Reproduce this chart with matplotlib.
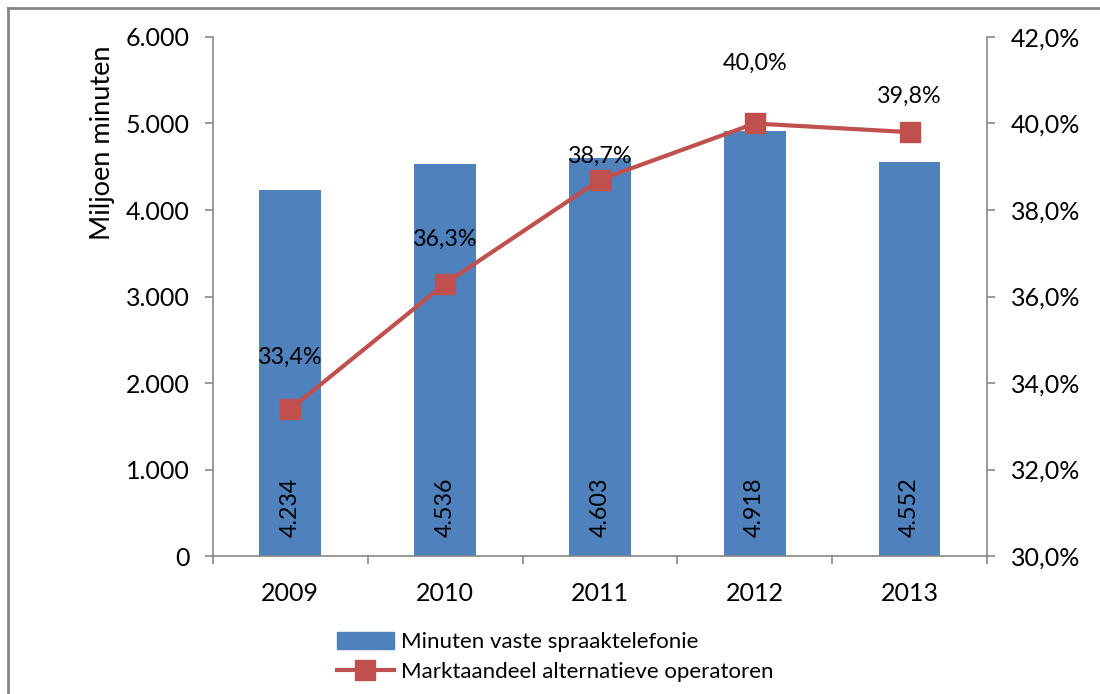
import matplotlib
matplotlib.use('Agg')
import matplotlib.pyplot as plt
from matplotlib.lines import Line2D
from matplotlib.ticker import FuncFormatter
import numpy as np

# Data
years = ['2009', '2010', '2011', '2012', '2013']
minutes = [4234, 4536, 4603, 4918, 4552]
market_share = [33.4, 36.3, 38.7, 40.0, 39.8]

bar_label = 'Minuten vaste spraaktelefonie'
line_label = 'Marktaandeel alternatieve operatoren'

# vertical label offsets (points) above the line markers, like the original
share_offsets = [37, 32, 17, 43, 26]

plt.rcParams['font.family'] = ['Lato', 'DejaVu Sans']

blue = '#4F81BD'
red = '#C0504D'
grey = '#868686'
tick_fs = 18
label_fs = 16.8


def nl_int(v, pos=None):
    return f'{int(v):,}'.replace(',', '.')


def nl_pct(v, pos=None):
    return f'{v:.1f}%'.replace('.', ',')


fig = plt.figure(figsize=(11, 6.94), dpi=100)
ax = fig.add_axes([0.1936, 0.1988, 0.7036, 0.7479])
ax2 = ax.twinx()

x = np.arange(len(years))
bars = ax.bar(x, minutes, 0.4, color=blue, label=bar_label, zorder=2)
ax.set_xlim(-0.5, len(years) - 0.5)
ax.set_ylim(0, 6000)
ax.set_yticks(np.arange(0, 6001, 1000))
ax.yaxis.set_major_formatter(FuncFormatter(nl_int))
ax.set_ylabel('Miljoen minuten', fontsize=19.5)
# Excel put the axis title near the top, not centred
ax.yaxis.set_label_coords(-0.126, 0.796)

ax.set_xticks(x)
ax.set_xticklabels(years)
ax.set_xticks(np.arange(-0.5, len(years)), minor=True)
ax.tick_params(axis='x', which='major', length=0, pad=19, labelsize=tick_fs)
ax.tick_params(axis='x', which='minor', length=6, color=grey, width=1.2)
ax.tick_params(axis='y', length=6, color=grey, width=1.2, pad=11,
               labelsize=tick_fs)

for b, v in zip(bars, minutes):
    ax.text(b.get_x() + b.get_width() / 2, 560, nl_int(v), rotation=90,
            ha='center', va='center', fontsize=label_fs, color='black')

ax2.plot(x, market_share, color=red, lw=3, marker='s', markersize=14.5,
         label=line_label, zorder=3)
ax2.set_ylim(30, 42)
ax2.set_yticks(np.arange(30, 42.1, 2))
ax2.yaxis.set_major_formatter(FuncFormatter(nl_pct))
ax2.tick_params(axis='y', length=6, color=grey, width=1.2, pad=11,
                labelsize=tick_fs)

for xi, v, off in zip(x, market_share, share_offsets):
    ax2.annotate(nl_pct(v), (xi, v), xytext=(0, off), textcoords='offset points',
                 ha='center', va='center', fontsize=label_fs)

for a in (ax, ax2):
    a.spines['top'].set_visible(False)
    for s in ('left', 'right', 'bottom'):
        a.spines[s].set_color(grey)
        a.spines[s].set_linewidth(1.2)
ax.spines['right'].set_visible(False)
ax2.spines['left'].set_visible(False)
ax2.spines['bottom'].set_visible(False)

handles = [plt.Rectangle((0, 0), 1, 1, color=blue),
           Line2D([0], [0], color=red, lw=3, marker='s', markersize=14.5)]
fig.legend(handles, [bar_label, line_label], loc='upper left',
           bbox_to_anchor=(0.306, 0.09), frameon=False, handlelength=2.6,
           handleheight=0.8, handletextpad=0.3, labelspacing=0.45,
           fontsize=16, borderaxespad=0, borderpad=0)

# outer chart border (top and left only visible)
fig.add_artist(Line2D([8 / 1100, 8 / 1100], [0, 1 - 8 / 694],
                      color=grey, lw=2, transform=fig.transFigure))
fig.add_artist(Line2D([8 / 1100, 1], [1 - 8 / 694, 1 - 8 / 694],
                      color=grey, lw=2, transform=fig.transFigure))

fig.savefig('out.png', dpi=100)
